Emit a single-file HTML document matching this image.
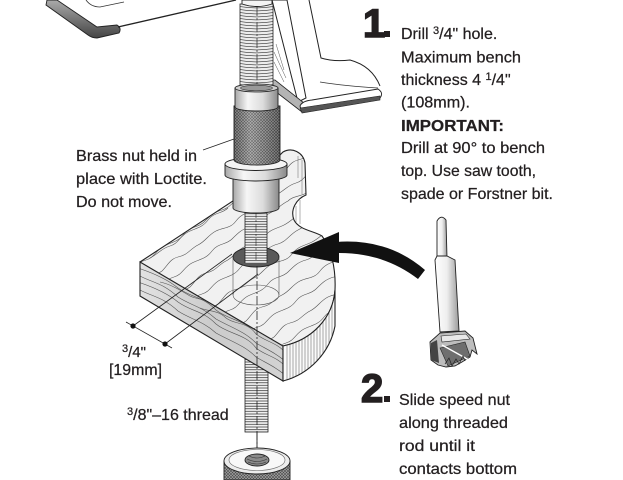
<!DOCTYPE html>
<html>
<head>
<meta charset="utf-8">
<style>
html,body{margin:0;padding:0;background:#fff;}
svg{display:block;}
text{font-family:"Liberation Sans",Arial,sans-serif;fill:#231f20;stroke:#231f20;stroke-width:0.25;}
</style>
</head>
<body>
<svg width="623" height="480" viewBox="0 0 623 480" xmlns="http://www.w3.org/2000/svg">
<defs>
  <pattern id="spring" x="240" y="0" width="33" height="3" patternUnits="userSpaceOnUse">
    <rect width="33" height="3" fill="#ececec"/>
    <path d="M0,0.6 Q16.5,3.2 33,0.6" stroke="#333" stroke-width="0.6" fill="none"/>
  </pattern>
  <pattern id="thr" x="0" y="0" width="40" height="2.6" patternUnits="userSpaceOnUse">
    <rect width="40" height="2.6" fill="#f4f4f4"/>
    <line x1="0" y1="0.6" x2="40" y2="0.6" stroke="#333" stroke-width="0.7"/>
  </pattern>
  <pattern id="knurl" width="3" height="3" patternUnits="userSpaceOnUse">
    <rect width="3" height="3" fill="#a0a0a0"/>
    <path d="M0,3 L3,0 M0,0 L3,3" stroke="#4a4a4a" stroke-width="0.6"/>
  </pattern>
  <linearGradient id="cyl" x1="0" y1="0" x2="1" y2="0">
    <stop offset="0" stop-color="#a8a8a8"/>
    <stop offset="0.3" stop-color="#f6f6f6"/>
    <stop offset="0.65" stop-color="#dcdcdc"/>
    <stop offset="1" stop-color="#8a8a8a"/>
  </linearGradient>
  <linearGradient id="shade" x1="0" y1="0" x2="1" y2="0">
    <stop offset="0" stop-color="#000" stop-opacity="0.18"/>
    <stop offset="0.35" stop-color="#fff" stop-opacity="0.2"/>
    <stop offset="1" stop-color="#000" stop-opacity="0.25"/>
  </linearGradient>
  <linearGradient id="rim" x1="0" y1="0" x2="0" y2="1">
    <stop offset="0" stop-color="#aaa"/>
    <stop offset="1" stop-color="#444"/>
  </linearGradient>
  <linearGradient id="front" x1="0" y1="0" x2="1" y2="0">
    <stop offset="0" stop-color="#e2e2e2"/>
    <stop offset="0.5" stop-color="#cccccc"/>
    <stop offset="1" stop-color="#d2d2d2"/>
  </linearGradient>
  <linearGradient id="shank" x1="0" y1="0" x2="1" y2="0">
    <stop offset="0" stop-color="#ffffff"/>
    <stop offset="0.5" stop-color="#eeeeee"/>
    <stop offset="1" stop-color="#9a9a9a"/>
  </linearGradient>
  <clipPath id="topClip">
    <path d="M140,262 L236,199 L270,165 L283,152 C292,147 303,152 305,163 L306,195 C296,199 290,210 294,220 C299,230 314,231 322,236 C331,248 336,268 335,290 C333,318 312,340 283,346 Z"/>
  </clipPath>
  <clipPath id="frontClip">
    <path d="M140,262 L283,346 L283,381 L140,296 Z"/>
  </clipPath>
  <clipPath id="endClip">
    <path d="M283,346 C312,340 333,318 335,290 L335,326 C330,352 310,374 283,381 Z"/>
  </clipPath>
</defs>

<!-- ===== TOP CLAMP ===== -->
<path d="M47,0 L57,0 L97,27 L117,25 Q122,28 119,33 L97,38 Q92,38 88,35 L46,5 Z" fill="url(#rim)" stroke="#222" stroke-width="0.9"/>
<path d="M118,27 L236,0" stroke="#222" stroke-width="1.3" fill="none"/>
<path d="M86,0 Q91,7 100,7 L124,2" stroke="#333" stroke-width="0.8" fill="none"/>

<!-- strut & foot -->
<path d="M272,0 L298,102 L306,98 L287,0 Z" fill="#fff" stroke="#222" stroke-width="1"/>
<path d="M309,0 L321,58 Q334,62 350,60 Q372,66 380,86" stroke="#222" stroke-width="1" fill="none"/>
<path d="M320,82 Q345,86 378,88" stroke="#333" stroke-width="0.7" fill="none"/>
<path d="M271,80 L275,80 L304,103 L302,112 L271,88 Z" fill="#b4b4b4" stroke="#222" stroke-width="0.8"/>
<path d="M300,106 Q302,101 312,100 L378,89 Q384,93 380,98 L302,112 Z" fill="#fff" stroke="#222" stroke-width="0.9"/>
<path d="M300,108 L380,96 L380,100 L302,113 Z" fill="#555" stroke="#222" stroke-width="0.6"/>
<path d="M274,52 L286,78 M274,62 L284,82 M276,44 L284,70" stroke="#555" stroke-width="0.5"/>

<!-- spring -->
<rect x="240" y="4" width="33" height="84" fill="url(#spring)" stroke="#222" stroke-width="0.8"/>
<path d="M242,0 L242,4 Q257,9 272,4 L272,0 Z" fill="#f4f4f4" stroke="#222" stroke-width="0.9"/>
<line x1="257" y1="6" x2="257" y2="86" stroke="#222" stroke-width="0.7" stroke-dasharray="10,2,2,2"/>

<!-- ===== ROD BELOW BLOCK ===== -->
<rect x="245" y="355" width="23" height="77" fill="url(#thr)" stroke="#222" stroke-width="0.8"/>

<!-- ===== WOOD BLOCK ===== -->
<path d="M140,262 L236,199 L270,165 L283,152 C292,147 303,152 305,163 L306,195 C296,199 290,210 294,220 C299,230 314,231 322,236 C331,248 336,268 335,290 C333,318 312,340 283,346 Z" fill="#f1f1f1"/>
<g clip-path="url(#topClip)" stroke="#555" stroke-width="0.6" fill="none">
  <path d="M126,272 c8,-4 12,-10 20,-12 c8,-2 10,-10 18,-14 c8,-4 14,-4 20,-12 c6,-8 14,-6 20,-12 c6,-6 10,-10 18,-12 c8,-2 12,-10 20,-14 c8,-4 10,-8 18,-12 c6,-6 14,-4 22,-10 c6,-6 8,-12 16,-14 c10,-2 12,-8 20,-12 c8,-4 10,-10 18,-14 c8,-4 14,-2 20,-10"/>
  <path d="M140,281 c6,-6 14,-4 22,-10 c6,-6 8,-12 16,-14 c10,-2 12,-8 20,-12 c8,-4 10,-10 18,-14 c8,-4 14,-2 20,-10 c6,-8 12,-8 20,-12 c8,-4 12,-10 20,-14 c8,-4 12,-10 20,-12 c8,-2 10,-10 18,-14 c8,-4 14,-4 20,-12"/>
  <path d="M154,289 c8,-4 12,-10 20,-12 c8,-2 10,-10 18,-14 c8,-4 14,-4 20,-12 c6,-8 14,-6 20,-12 c6,-6 10,-10 18,-12 c8,-2 12,-10 20,-14 c8,-4 10,-8 18,-12 c6,-6 14,-4 22,-10 c6,-6 8,-12 16,-14 c10,-2 12,-8 20,-12"/>
  <path d="M168,297 c6,-6 14,-4 22,-10 c6,-6 8,-12 16,-14 c10,-2 12,-8 20,-12 c8,-4 10,-10 18,-14 c8,-4 14,-2 20,-10 c6,-8 12,-8 20,-12 c8,-4 12,-10 20,-14 c8,-4 12,-10 20,-12 c8,-2 10,-10 18,-14 c8,-4 14,-4 20,-12"/>
  <path d="M182,306 c8,-4 12,-10 20,-12 c8,-2 10,-10 18,-14 c8,-4 14,-4 20,-12 c6,-8 14,-6 20,-12 c6,-6 10,-10 18,-12 c8,-2 12,-10 20,-14 c8,-4 10,-8 18,-12 c6,-6 14,-4 22,-10 c6,-6 8,-12 16,-14"/>
  <path d="M196,314 c6,-6 14,-4 22,-10 c6,-6 8,-12 16,-14 c10,-2 12,-8 20,-12 c8,-4 10,-10 18,-14 c8,-4 14,-2 20,-10 c6,-8 12,-8 20,-12 c8,-4 12,-10 20,-14 c8,-4 12,-10 20,-12 c8,-2 10,-10 18,-14"/>
  <path d="M210,322 c8,-4 12,-10 20,-12 c8,-2 10,-10 18,-14 c8,-4 14,-4 20,-12 c6,-8 14,-6 20,-12 c6,-6 10,-10 18,-12 c8,-2 12,-10 20,-14 c8,-4 10,-8 18,-12 c6,-6 14,-4 22,-10"/>
  <path d="M224,331 c6,-6 14,-4 22,-10 c6,-6 8,-12 16,-14 c10,-2 12,-8 20,-12 c8,-4 10,-10 18,-14 c8,-4 14,-2 20,-10 c6,-8 12,-8 20,-12 c8,-4 12,-10 20,-14 c8,-4 12,-10 20,-12"/>
  <path d="M238,339 c8,-4 12,-10 20,-12 c8,-2 10,-10 18,-14 c8,-4 14,-4 20,-12 c6,-8 14,-6 20,-12 c6,-6 10,-10 18,-12 c8,-2 12,-10 20,-14"/>
  <path d="M252,347 c6,-6 14,-4 22,-10 c6,-6 8,-12 16,-14 c10,-2 12,-8 20,-12 c8,-4 10,-10 18,-14 c8,-4 14,-2 20,-10"/>
  <path d="M266,355 c8,-4 12,-10 20,-12 c8,-2 10,-10 18,-14 c8,-4 14,-4 20,-12 c6,-8 14,-6 20,-12"/>
  <path d="M280,362 c6,-6 14,-4 22,-10 c6,-6 8,-12 16,-14 c10,-2 12,-8 20,-12"/>
  <path d="M150,258 c8,-4 12,-10 20,-12 c8,-2 10,-10 18,-14 c8,-4 14,-4 20,-12 c6,-8 14,-6 20,-12"/>
</g>
<path d="M140,262 L236,199 L270,165 L283,152 C292,147 303,152 305,163 L306,195 C296,199 290,210 294,220 C299,230 314,231 322,236 C331,248 336,268 335,290 C333,318 312,340 283,346" fill="none" stroke="#222" stroke-width="1.1"/>
<g stroke="#666" stroke-width="0.5">
  <path d="M302,160 L302,194 M298,156 L298,178 M300,200 L300,224 M296,206 L296,222"/>
</g>

<!-- front face -->
<path d="M140,262 L283,346 L283,381 L140,296 Z" fill="url(#front)"/>
<g clip-path="url(#frontClip)" stroke="#555" stroke-width="0.6" fill="none">
  <path d="M138,258 c15,8 25,8 40,22 c12,8 25,10 38,22 c14,8 28,12 40,24 c10,6 20,10 30,19"/>
  <path d="M138,268 c12,4 28,10 40,20 c14,10 24,8 38,22 c12,10 30,10 40,24 c10,8 20,8 30,19"/>
  <path d="M138,275 c15,8 25,8 40,22 c12,8 25,10 38,22 c14,8 28,12 40,24 c10,6 20,10 30,19"/>
  <path d="M138,282 c12,4 28,10 40,20 c14,10 24,8 38,22 c12,10 30,10 40,24 c10,8 20,8 30,19"/>
  <path d="M138,289 c15,8 25,8 40,22 c12,8 25,10 38,22 c14,8 28,12 40,24 c10,6 20,10 30,19"/>
  <path d="M160,282 c10,2 20,8 30,14 c8,4 14,2 22,8"/>
  <path d="M200,308 c10,4 18,2 26,10 c8,6 16,4 24,10"/>
</g>
<path d="M140,262 L283,346 L283,381 L140,296 Z" fill="none" stroke="#222" stroke-width="1.1"/>

<!-- end face -->
<path d="M283,346 C312,340 333,318 335,290 L335,326 C330,352 310,374 283,381 Z" fill="#fafafa"/>
<g clip-path="url(#endClip)" stroke="#555" stroke-width="0.5">
  <path d="M287,300 V390 M290,300 V390 M293,300 V390 M296,300 V390 M299,300 V390 M302,300 V390 M305,300 V390 M308,300 V390 M311,300 V390 M314,300 V390 M317,300 V390 M320,300 V390 M323,300 V390 M326,290 V390 M329,290 V390 M332,290 V390"/>
</g>
<path d="M283,346 C312,340 333,318 335,290 L335,326 C330,352 310,374 283,381 Z" fill="none" stroke="#222" stroke-width="1.1"/>

<!-- hole -->
<ellipse cx="256" cy="257" rx="23" ry="10" fill="#5a5a5a" stroke="#222" stroke-width="0.9"/>
<path d="M233,258 L233,295 M279,258 L279,295" stroke="#555" stroke-width="0.6"/>
<ellipse cx="256" cy="295" rx="23" ry="10" fill="none" stroke="#555" stroke-width="0.6"/>

<!-- rod above hole -->
<rect x="245" y="205" width="22" height="58" fill="url(#thr)"/>
<path d="M245,205 V263 M267,205 V263" stroke="#222" stroke-width="0.8"/>
<line x1="256" y1="210" x2="256" y2="262" stroke="#222" stroke-width="0.6" stroke-dasharray="8,2,2,2"/>

<!-- center line -->
<line x1="257" y1="266" x2="257" y2="448" stroke="#222" stroke-width="0.8" stroke-dasharray="9,2,2,2"/>

<!-- dimension -->
<path d="M126,322 L172,348 M133,326 L232,254 M165,344 L258,274" stroke="#222" stroke-width="0.8" fill="none"/>
<circle cx="133" cy="326" r="2.6" fill="#111"/>
<circle cx="165" cy="344" r="2.6" fill="#111"/>

<!-- ===== BRASS NUT STACK ===== -->
<path d="M233,176 L233,208 A23,5 0 0 0 279,208 L279,176 Z" fill="url(#cyl)" stroke="#222" stroke-width="0.9"/>
<path d="M225,164 L225,175 A31,6 0 0 0 287,175 L287,164 Z" fill="url(#cyl)" stroke="#222" stroke-width="0.9"/>
<ellipse cx="256" cy="164" rx="31" ry="6.5" fill="#f4f4f4" stroke="#222" stroke-width="0.9"/>
<path d="M234,106 L234,160 A23,5 0 0 0 280,160 L280,106 Z" fill="url(#knurl)" stroke="#222" stroke-width="0.9"/>
<path d="M234,106 L234,160 A23,5 0 0 0 280,160 L280,106 Z" fill="url(#shade)"/>
<path d="M235,88 L235,107 A21.5,4 0 0 0 278,107 L278,88 Z" fill="url(#cyl)" stroke="#222" stroke-width="0.9"/>
<ellipse cx="256.5" cy="88" rx="21.5" ry="4" fill="#cfcfcf" stroke="#222" stroke-width="0.8"/>
<ellipse cx="256.5" cy="88" rx="16" ry="2.8" fill="#999" stroke="#333" stroke-width="0.6"/>
<line x1="203" y1="150" x2="234" y2="139" stroke="#222" stroke-width="0.8"/>

<!-- ===== SPEED NUT ===== -->
<line x1="257" y1="432" x2="257" y2="452" stroke="#222" stroke-width="0.9"/>
<path d="M224,461 L224,480 L290,480 L290,461 Z" fill="url(#knurl)" stroke="#222" stroke-width="0.9"/>
<ellipse cx="257" cy="461" rx="33" ry="13" fill="#ececec" stroke="#222" stroke-width="0.9"/>
<ellipse cx="257" cy="460" rx="28" ry="10.5" fill="#f8f8f8" stroke="#666" stroke-width="0.6"/>
<ellipse cx="257" cy="460" rx="12" ry="6" fill="#8a8a8a" stroke="#222" stroke-width="0.9"/>
<path d="M247,459 Q257,464 267,459 M248,462 Q257,466 266,462 M249,456 Q257,460 265,456" stroke="#333" stroke-width="0.6" fill="none"/>

<!-- ===== ARROW ===== -->
<path d="M336,242 Q388,238 425,270 L418,279 Q383,252 336,253 Z" fill="#111"/>
<polygon points="290,253 339,232 339,263" fill="#111"/>

<!-- ===== DRILL BIT ===== -->
<path d="M437,221 Q441,214 446,220 L447,258 L437,258 Z" fill="url(#shank)" stroke="#222" stroke-width="0.9"/>
<path d="M435,260 L437,256 L447,256 L455,260 L459,331 L440,332 Z" fill="url(#shank)" stroke="#222" stroke-width="0.9"/>
<path d="M430,342 L440,333 L465,331 L473,338 L477,354 L472,350 L470,357 L462,362 L455,366 L446,367 L438,365 L431,360 Z" fill="#bdbdbd" stroke="#222" stroke-width="0.9"/>
<path d="M431,343 L437,340 L439,363 L431,360 Z" fill="#444"/>
<path d="M440,348 L465,342 L470,356 L448,366 Z" fill="#6e6e6e" stroke="#222" stroke-width="0.6"/>
<path d="M442,345 L469,360" stroke="#fff" stroke-width="1.4"/>
<path d="M441,336 L466,334 L470,339 L442,342 Z" fill="#e8e8e8" stroke="#222" stroke-width="0.6"/>
<path d="M445,364 L449,358 L452,366 L456,359 L459,364 L463,356 L465,361" stroke="#222" stroke-width="0.7" fill="none"/>

<!-- ===== TEXT ===== -->
<text x="363" y="37" font-size="40" font-weight="bold" style="stroke-width:1.6">1</text>
<rect x="384" y="31" width="6" height="6" fill="#231f20"/>
<text x="401" y="39" font-size="16">Drill <tspan font-size="11" dy="-5">3</tspan><tspan dy="5">/4" hole.</tspan></text>
<text x="401" y="62.5" font-size="16" textLength="120" lengthAdjust="spacingAndGlyphs">Maximum bench</text>
<text x="401" y="85" font-size="16">thickness 4 <tspan font-size="11" dy="-5">1</tspan><tspan dy="5">/4"</tspan></text>
<text x="401" y="107.5" font-size="16" textLength="69" lengthAdjust="spacingAndGlyphs">(108mm).</text>
<text x="401" y="131" font-size="16" font-weight="bold" textLength="103" lengthAdjust="spacingAndGlyphs">IMPORTANT:</text>
<text x="401" y="153" font-size="16" textLength="144" lengthAdjust="spacingAndGlyphs">Drill at 90° to bench</text>
<text x="401" y="176" font-size="16" textLength="135" lengthAdjust="spacingAndGlyphs">top. Use saw tooth,</text>
<text x="401" y="199" font-size="16" textLength="152" lengthAdjust="spacingAndGlyphs">spade or Forstner bit.</text>

<text x="76" y="161" font-size="16" textLength="121" lengthAdjust="spacingAndGlyphs">Brass nut held in</text>
<text x="76" y="184" font-size="16" textLength="131" lengthAdjust="spacingAndGlyphs">place with Loctite.</text>
<text x="76" y="207" font-size="16" textLength="96" lengthAdjust="spacingAndGlyphs">Do not move.</text>

<text x="122" y="357" font-size="15"><tspan font-size="11" dy="-5">3</tspan><tspan dy="5">/4"</tspan></text>
<text x="109" y="375" font-size="16" textLength="53" lengthAdjust="spacingAndGlyphs">[19mm]</text>
<text x="127" y="420" font-size="16"><tspan font-size="11" dy="-5">3</tspan><tspan dy="5">/8"–16 thread</tspan></text>

<text x="361" y="402" font-size="40" font-weight="bold" style="stroke-width:1.6">2</text>
<rect x="384" y="396" width="6" height="6" fill="#231f20"/>
<text x="399" y="405" font-size="16" textLength="111" lengthAdjust="spacingAndGlyphs">Slide speed nut</text>
<text x="399" y="428" font-size="16" textLength="109" lengthAdjust="spacingAndGlyphs">along threaded</text>
<text x="399" y="451" font-size="16" textLength="76" lengthAdjust="spacingAndGlyphs">rod until it</text>
<text x="399" y="474" font-size="16" textLength="118" lengthAdjust="spacingAndGlyphs">contacts bottom</text>
</svg>
</body>
</html>
